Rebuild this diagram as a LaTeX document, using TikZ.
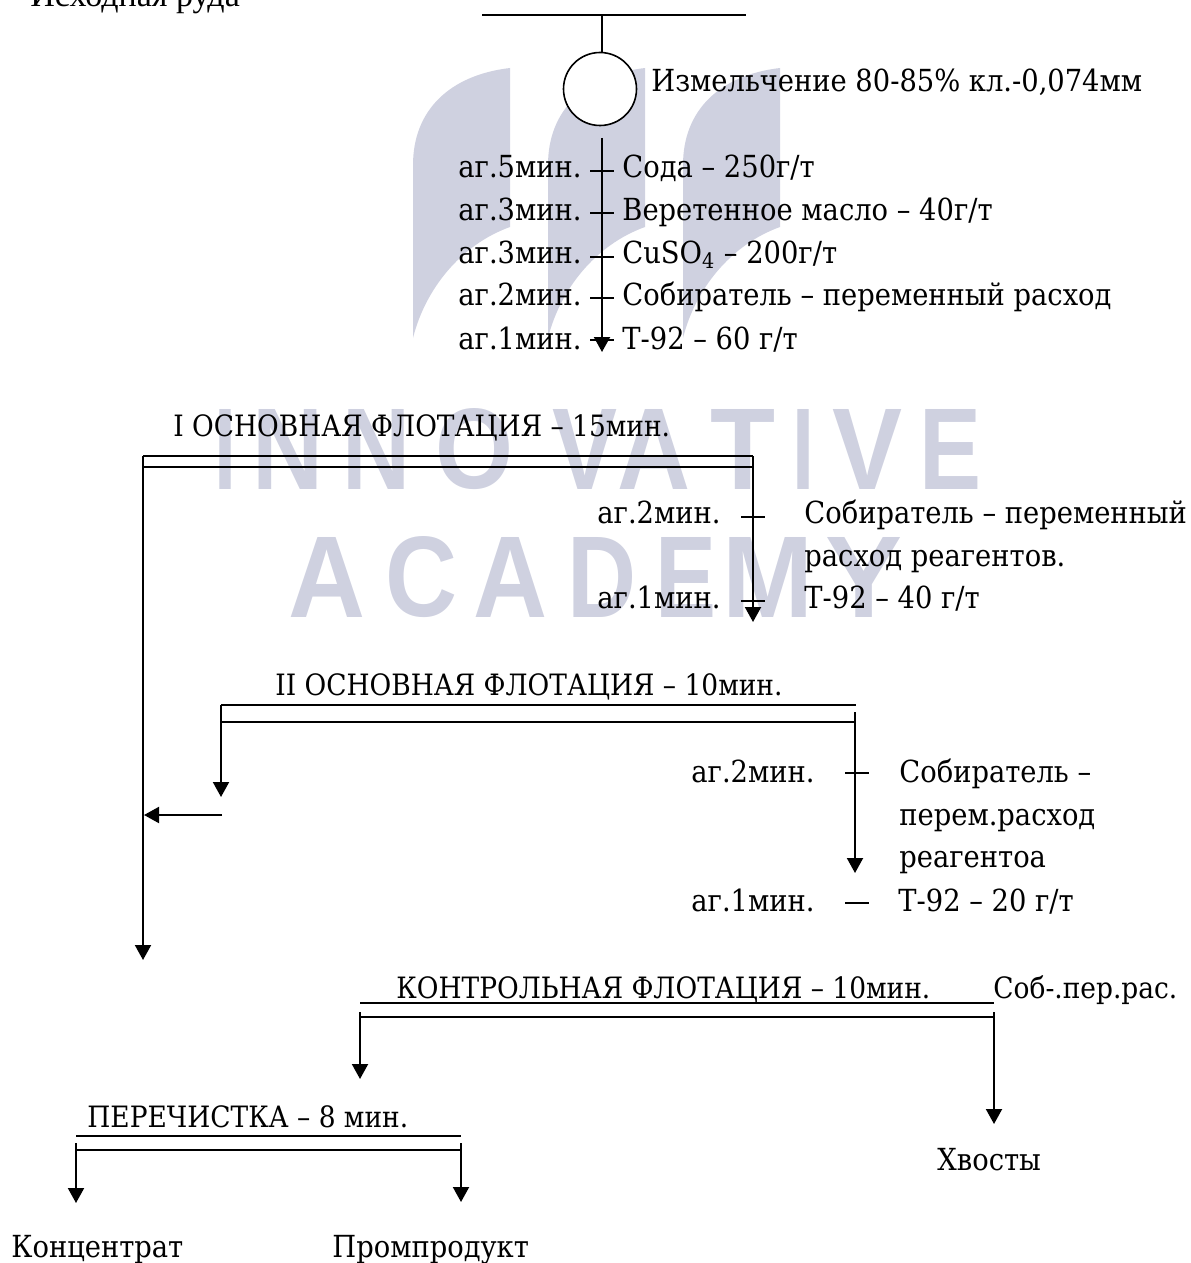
\documentclass[tikz,border=0pt]{standalone}
\usepackage{fontspec}
\setmainfont{DejaVu Serif Condensed}
\newfontfamily\feedfont{Liberation Serif}
\setsansfont{Liberation Sans}
\usepackage{xcolor}
\usetikzlibrary{arrows.meta,shapes.geometric,calc}
\definecolor{markgray}{RGB}{207,209,224}

\begin{document}
\begin{tikzpicture}[
    x=0.5pt, y=-0.5pt,
    flowtxt/.style={anchor=base west, inner sep=0pt, font=\fontsize{15.2}{18}\selectfont},
    stagetxt/.style={anchor=base west, inner sep=0pt, font=\fontsize{14.7}{18}\selectfont},
    wline/.style={line width=0.8pt, color=black},
    arrow/.style={-{Triangle[width=8pt,length=7.5pt]}, line width=1pt, color=black},
    wmark/.style={anchor=south west, inner sep=0pt, text=markgray, font=\sffamily\bfseries}
]
    \useasboundingbox (0,0) rectangle (1190,1263);

    % Background mark
    \foreach \dx in {0,135,270}
        \fill[markgray] ($(510,68)+(\dx,0)$) .. controls ($(450,75)+(\dx,0)$) and ($(413,110)+(\dx,0)$) .. ($(413,165)+(\dx,0)$)
            -- ($(413,338)+(\dx,0)$) .. controls ($(425,290)+(\dx,0)$) and ($(460,245)+(\dx,0)$) .. ($(510,227)+(\dx,0)$) -- cycle;
    \foreach \ltr/\xa/\wid in {I/214/22,N/252/71,N/342/68,O/435/78,V/552/65,A/617/73,T/710/65,I/792/22,V/832/70,E/919/62}
        \node[wmark] (top\xa) at (\xa,490) {\resizebox{\wid\dimexpr0.5pt\relax}{40pt}{\ltr}};
    \foreach \ltr/\xa/\wid in {A/288/77,C/385/72,A/473/74,D/567/69,E/655/61,M/722/91,Y/825/77}
        \node[wmark] (bot\xa) at (\xa,618) {\resizebox{\wid\dimexpr0.5pt\relax}{40pt}{\ltr}};

    % Feed and grinding
    \node[flowtxt] (feed) at (30,7) {\feedfont\fontsize{17}{20}\selectfont Исходная руда};
    \coordinate (feedl) at (482,15);
    \coordinate (feedr) at (746,15);
    \coordinate (feedm) at (602,15);
    \draw[wline] (feedl) -- (feedr);
    \node[circle, draw, wline, fill=white, minimum size=36.5pt, inner sep=0pt] (mill) at (600,89) {};
    \draw[wline] (feedm) -- (feedm |- mill.north);
    \node[flowtxt] (milltxt) at (651,91) {Измельчение 80-85\% кл.-0,074мм};

    % Conditioning
    \coordinate (cona) at (602,138);
    \coordinate (conb) at (602,352);
    \draw[arrow] (cona) -- (conb);
    \foreach \i/\yy in {1/171,2/213,3/257,4/298,5/340} {
        \coordinate (tl\i) at (590,\yy);
        \coordinate (tr\i) at (614,\yy);
        \draw[wline] (tl\i) -- (tr\i);
    }
    \node[flowtxt] (ag5) at (458,177) {аг.5мин.};
    \node[flowtxt] (ag3a) at (458,220) {аг.3мин.};
    \node[flowtxt] (ag3b) at (458,263) {аг.3мин.};
    \node[flowtxt] (ag2) at (458,305) {аг.2мин.};
    \node[flowtxt] (ag1) at (458,349) {аг.1мин.};
    \node[flowtxt] (soda) at (622,177) {Сода – 250г/т};
    \node[flowtxt] (oil) at (622,220) {Веретенное масло – 40г/т};
    \node[flowtxt] (cuso) at (622,263) {CuSO\textsubscript{4} – 200г/т};
    \node[flowtxt] (coll) at (622,305) {Собиратель – переменный расход};
    \node[flowtxt] (frothA) at (622,349) {Т-92 – 60 г/т};

    % First rougher
    \node[stagetxt] (ros1) at (173,436) {I ОСНОВНАЯ ФЛОТАЦИЯ – 15мин.};
    \coordinate (ra) at (143,456);
    \coordinate (rb) at (753,456);
    \coordinate (rc) at (143,467);
    \coordinate (rd) at (753,467);
    \coordinate (re) at (753,622);
    \coordinate (rf) at (143,960);
    \draw[wline] (ra) -- (rb);
    \draw[wline] (rc) -- (rd);
    \draw[arrow] (rb) -- (re);
    \draw[arrow] (ra) -- (rf);
    \foreach \i/\yy in {6/517,7/601} {
        \coordinate (tl\i) at (741,\yy);
        \coordinate (tr\i) at (765,\yy);
        \draw[wline] (tl\i) -- (tr\i);
    }
    \node[flowtxt] (ros1a) at (597,523) {аг.2мин.};
    \node[flowtxt] (ros1b) at (597,608) {аг.1мин.};
    \node[flowtxt] (ros1c) at (804,523) {Собиратель – переменный};
    \node[flowtxt] (ros1d) at (804,566) {расход реагентов.};
    \node[flowtxt] (ros1e) at (804,608) {Т-92 – 40 г/т};

    % Second rougher
    \node[stagetxt] (ros2) at (275,695) {II ОСНОВНАЯ ФЛОТАЦИЯ – 10мин.};
    \coordinate (sa) at (221,705);
    \coordinate (sb) at (856,705);
    \coordinate (sc) at (221,722);
    \coordinate (sd) at (856,722);
    \coordinate (se) at (221,797);
    \coordinate (sf) at (855,712);
    \coordinate (sg) at (855,873);
    \coordinate (sh) at (222,815);
    \coordinate (si) at (144,815);
    \draw[wline] (sa) -- (sb);
    \draw[wline] (sc) -- (sd);
    \draw[arrow] (sa) -- (se);
    \draw[arrow] (sf) -- (sg);
    \draw[arrow] (sh) -- (si);
    \foreach \i/\yy in {8/773,9/903} {
        \coordinate (tl\i) at (845,\yy);
        \coordinate (tr\i) at (869,\yy);
        \draw[wline] (tl\i) -- (tr\i);
    }
    \node[flowtxt] (ros2a) at (691,782) {аг.2мин.};
    \node[flowtxt] (ros2b) at (691,911) {аг.1мин.};
    \node[flowtxt] (ros2c) at (899,782) {Собиратель –};
    \node[flowtxt] (ros2d) at (899,825) {перем.расход};
    \node[flowtxt] (ros2e) at (899,867) {реагентоа};
    \node[flowtxt] (ros2f) at (898,911) {Т-92 – 20 г/т};

    % Scavenger
    \node[stagetxt] (scav) at (396,998) {КОНТРОЛЬНАЯ ФЛОТАЦИЯ – 10мин.};
    \node[stagetxt] (scavr) at (993,998) {Соб-.пер.рас.};
    \coordinate (ka) at (360,1003);
    \coordinate (kb) at (994,1003);
    \coordinate (kc) at (360,1017);
    \coordinate (kd) at (994,1017);
    \coordinate (ke) at (360,1012);
    \coordinate (kf) at (360,1079);
    \coordinate (kg) at (994,1012);
    \coordinate (kh) at (994,1124);
    \draw[wline] (ka) -- (kb);
    \draw[wline] (kc) -- (kd);
    \draw[arrow] (ke) -- (kf);
    \draw[arrow] (kg) -- (kh);
    \node[flowtxt] (tails) at (937,1170) {Хвосты};

    % Cleaner
    \node[stagetxt] (clean) at (87,1127) {ПЕРЕЧИСТКА – 8 мин.};
    \coordinate (pa) at (76,1136);
    \coordinate (pb) at (461,1136);
    \coordinate (pc) at (76,1150);
    \coordinate (pd) at (461,1150);
    \coordinate (pe) at (76,1143);
    \coordinate (pf) at (76,1203);
    \coordinate (pg) at (461,1143);
    \coordinate (ph) at (461,1202);
    \draw[wline] (pa) -- (pb);
    \draw[wline] (pc) -- (pd);
    \draw[arrow] (pe) -- (pf);
    \draw[arrow] (pg) -- (ph);
    \node[flowtxt] (conc) at (11,1257) {Концентрат};
    \node[flowtxt] (midd) at (332,1257) {Промпродукт};

\end{tikzpicture}
\end{document}
